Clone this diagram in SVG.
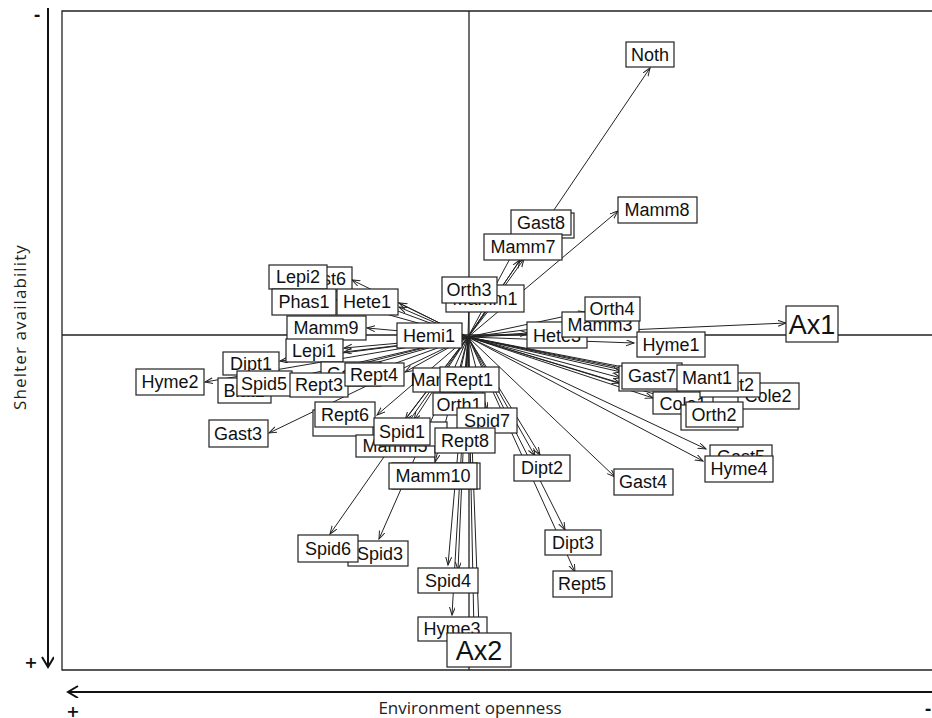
<svg xmlns="http://www.w3.org/2000/svg" width="932" height="718" viewBox="0 0 932 718">
<style>
.b{fill:#fff;stroke:#222;stroke-width:1.2}
.t{font-family:"Liberation Sans",Arial,sans-serif;font-size:18px;fill:#111;text-anchor:middle}
.T{font-family:"Liberation Sans",Arial,sans-serif;font-size:27px;fill:#111;text-anchor:middle}
.a{stroke:#222;stroke-width:1;fill:none;marker-end:url(#ah)}
.f{stroke:#222;stroke-width:1.3;fill:none}
.o{font-family:"Open Sans","DejaVu Sans",sans-serif;font-size:17px;fill:#222;text-anchor:middle}
.s{font-family:"DejaVu Sans",sans-serif;font-size:16px;fill:#111;text-anchor:middle;font-weight:bold}
</style>
<defs>
<marker id="ah" markerUnits="userSpaceOnUse" markerWidth="10" markerHeight="8" refX="8" refY="3" orient="auto"><path d="M0,0 L8,3 L0,6" fill="none" stroke="#222" stroke-width="1"/></marker>
<marker id="big" markerUnits="userSpaceOnUse" markerWidth="14" markerHeight="14" refX="11" refY="6" orient="auto"><path d="M1,0 L11,6 L1,12" fill="none" stroke="#111" stroke-width="2"/></marker>
</defs>
<rect width="932" height="718" fill="#fff"/>
<g id="frame">
<path class="f" d="M934,11 H62 V670 H934"/>
<path class="f" d="M62,335 H934 M469,11 V670"/>
</g>
<g id="outer-axes">
<line x1="48" y1="8" x2="48" y2="667" stroke="#111" stroke-width="2" marker-end="url(#big)"/>
<line x1="932" y1="692" x2="68" y2="692" stroke="#111" stroke-width="2" marker-end="url(#big)"/>
<text class="s" x="37" y="20">-</text>
<text class="s" x="31" y="668">+</text>
<text class="s" x="73" y="717">+</text>
<text class="s" x="928" y="714">-</text>
<text class="o" x="470" y="714">Environment openness</text>
<text class="o" x="26" y="327" font-size="18" letter-spacing="1.1" transform="rotate(-90 26 327)">Shelter availability</text>
</g>
<g id="connectors">
<path class="a" d="M468,337 L650,68"/>
<path class="a" d="M468,337 L618,211"/>
<path class="a" d="M468,337 L521,238"/>
<path class="a" d="M468,337 L520,260"/>
<path class="a" d="M468,337 L524,259"/>
<path class="a" d="M468,337 L500,296"/>
<path class="a" d="M468,337 L469,300"/>
<path class="a" d="M468,337 L352,280"/>
<path class="a" d="M468,337 L330,286"/>
<path class="a" d="M468,337 L336,300"/>
<path class="a" d="M468,337 L399,303"/>
<path class="a" d="M468,337 L399,307"/>
<path class="a" d="M468,337 L367,328"/>
<path class="a" d="M468,337 L344,348"/>
<path class="a" d="M468,337 L344,352"/>
<path class="a" d="M468,337 L280,361"/>
<path class="a" d="M468,337 L205,382"/>
<path class="a" d="M468,337 L272,386"/>
<path class="a" d="M468,337 L292,378"/>
<path class="a" d="M468,337 L349,380"/>
<path class="a" d="M468,337 L357,368"/>
<path class="a" d="M468,337 L405,372"/>
<path class="a" d="M468,337 L269,433"/>
<path class="a" d="M468,337 L377,415"/>
<path class="a" d="M468,337 L405,420"/>
<path class="a" d="M468,337 L414,420"/>
<path class="a" d="M468,337 L400,426"/>
<path class="a" d="M468,337 L435,462"/>
<path class="a" d="M468,337 L330,534"/>
<path class="a" d="M468,337 L379,539"/>
<path class="a" d="M468,337 L448,565"/>
<path class="a" d="M468,337 L452,615"/>
<path class="a" d="M468,337 L458,570"/>
<path class="a" d="M468,337 L479,628"/>
<path class="a" d="M468,337 L474,632"/>
<path class="a" d="M468,337 L455,395"/>
<path class="a" d="M468,337 L487,410"/>
<path class="a" d="M468,337 L465,430"/>
<path class="a" d="M468,337 L540,455"/>
<path class="a" d="M468,337 L535,456"/>
<path class="a" d="M468,337 L565,530"/>
<path class="a" d="M468,337 L575,572"/>
<path class="a" d="M468,337 L615,477"/>
<path class="a" d="M468,337 L706,449"/>
<path class="a" d="M468,337 L703,461"/>
<path class="a" d="M468,337 L653,398"/>
<path class="a" d="M468,337 L621,372"/>
<path class="a" d="M468,337 L621,378"/>
<path class="a" d="M468,337 L620,383"/>
<path class="a" d="M468,337 L690,405"/>
<path class="a" d="M468,337 L740,395"/>
<path class="a" d="M468,337 L705,385"/>
<path class="a" d="M468,337 L680,378"/>
<path class="a" d="M468,337 L634,343"/>
<path class="a" d="M468,337 L786,323"/>
<path class="a" d="M468,337 L565,325"/>
<path class="a" d="M468,337 L585,312"/>
<path class="a" d="M468,337 L528,333"/>
</g>
<g id="Gast8"><rect class="b" x="514" y="213" width="60" height="25"/><rect class="b" x="511" y="210" width="60" height="25"/><text class="t" x="541" y="229">Gast8</text></g>
<g id="Mamm7"><rect class="b" x="484" y="234" width="78" height="26"/><text class="t" x="523" y="253">Mamm7</text></g>
<g id="Noth"><rect class="b" x="626" y="42" width="48" height="25"/><text class="t" x="650" y="61">Noth</text></g>
<g id="Mamm8"><rect class="b" x="618" y="197" width="79" height="26"/><text class="t" x="657" y="216">Mamm8</text></g>
<g id="Mamm1"><rect class="b" x="446" y="285" width="78" height="27"/><text class="t" x="485" y="305">Mamm1</text></g>
<g id="Orth3"><rect class="b" x="442" y="277" width="55" height="26"/><text class="t" x="469" y="296">Orth3</text></g>
<g id="Hete3"><rect class="b" x="527" y="322" width="60" height="26"/><text class="t" x="557" y="342">Hete3</text></g>
<g id="Mamm3"><rect class="b" x="562" y="312" width="77" height="25"/><text class="t" x="600" y="331">Mamm3</text></g>
<g id="Orth4"><rect class="b" x="585" y="297" width="55" height="24"/><text class="t" x="612" y="315">Orth4</text></g>
<g id="Hyme1"><rect class="b" x="637" y="332" width="68" height="25"/><text class="t" x="671" y="351">Hyme1</text></g>
<g id="Ax1"><rect class="b" x="786" y="306" width="52" height="36"/><text class="T" x="812" y="334">Ax1</text></g>
<g id="Gast6"><rect class="b" x="292" y="267" width="60" height="24"/><text class="t" x="322" y="285">Gast6</text></g>
<g id="Lepi2"><rect class="b" x="269" y="265" width="58" height="24"/><text class="t" x="298" y="283">Lepi2</text></g>
<g id="Phas1"><rect class="b" x="272" y="289" width="64" height="26"/><text class="t" x="304" y="308">Phas1</text></g>
<g id="Hete1"><rect class="b" x="337" y="289" width="61" height="26"/><text class="t" x="367" y="308">Hete1</text></g>
<g id="Mamm9"><rect class="b" x="287" y="316" width="79" height="24"/><text class="t" x="326" y="334">Mamm9</text></g>
<g id="Hemi1"><rect class="b" x="397" y="323" width="65" height="25"/><text class="t" x="429" y="342">Hemi1</text></g>
<g id="Lepi1"><rect class="b" x="286" y="339" width="57" height="23"/><text class="t" x="314" y="357">Lepi1</text></g>
<g id="Dipt1"><rect class="b" x="223" y="352" width="56" height="23"/><text class="t" x="251" y="370">Dipt1</text></g>
<g id="Blat1"><rect class="b" x="218" y="378" width="53" height="25"/><text class="t" x="244" y="397">Blat1</text></g>
<g id="Hyme2"><rect class="b" x="136" y="369" width="68" height="26"/><text class="t" x="170" y="388">Hyme2</text></g>
<g id="Gast1"><rect class="b" x="321" y="362" width="60" height="24"/><text class="t" x="351" y="380">Gast1</text></g>
<g id="Spid5"><rect class="b" x="237" y="371" width="55" height="25"/><text class="t" x="264" y="390">Spid5</text></g>
<g id="Rept3"><rect class="b" x="290" y="373" width="58" height="24"/><text class="t" x="319" y="391">Rept3</text></g>
<g id="Rept4"><rect class="b" x="345" y="363" width="59" height="23"/><text class="t" x="374" y="381">Rept4</text></g>
<g id="Gast3"><rect class="b" x="209" y="420" width="59" height="27"/><text class="t" x="238" y="440">Gast3</text></g>
<g id="Rept6"><rect class="b" x="313" y="410" width="60" height="26"/><rect class="b" x="315" y="402" width="60" height="25"/><text class="t" x="345" y="421">Rept6</text></g>
<g id="Mamm4"><rect class="b" x="413" y="368" width="60" height="24"/><text class="t" x="443" y="386">Mamm4</text></g>
<g id="Mamm5"><rect class="b" x="356" y="435" width="79" height="22"/><text class="t" x="395" y="452">Mamm5</text></g>
<g id="Spid1"><rect class="b" x="380" y="422" width="67" height="24"/><rect class="b" x="374" y="418" width="56" height="27"/><text class="t" x="402" y="438">Spid1</text></g>
<g id="Orth1"><rect class="b" x="433" y="393" width="52" height="22"/><text class="t" x="459" y="411">Orth1</text></g>
<g id="Rept1"><rect class="b" x="440" y="367" width="59" height="25"/><text class="t" x="469" y="386">Rept1</text></g>
<g id="Spid7"><rect class="b" x="457" y="408" width="60" height="25"/><text class="t" x="487" y="427">Spid7</text></g>
<g id="Rept8"><rect class="b" x="435" y="428" width="60" height="25"/><text class="t" x="465" y="447">Rept8</text></g>
<g id="Mamm10"><rect class="b" x="392" y="463" width="88" height="26"/><rect class="b" x="389" y="463" width="88" height="26"/><text class="t" x="433" y="482">Mamm10</text></g>
<g id="Spid3"><rect class="b" x="348" y="541" width="60" height="25"/><text class="t" x="380" y="560">Spid3</text></g>
<g id="Spid6"><rect class="b" x="298" y="535" width="60" height="27"/><text class="t" x="328" y="555">Spid6</text></g>
<g id="Spid4"><rect class="b" x="418" y="568" width="60" height="25"/><text class="t" x="448" y="587">Spid4</text></g>
<g id="Hyme3"><rect class="b" x="418" y="617" width="69" height="24"/><text class="t" x="452" y="635">Hyme3</text></g>
<g id="Ax2"><rect class="b" x="447" y="633" width="64" height="34"/><text class="T" x="479" y="660">Ax2</text></g>
<g id="Dipt2"><rect class="b" x="514" y="455" width="56" height="26"/><text class="t" x="542" y="474">Dipt2</text></g>
<g id="Dipt3"><rect class="b" x="545" y="530" width="56" height="25"/><text class="t" x="573" y="549">Dipt3</text></g>
<g id="Rept5"><rect class="b" x="553" y="571" width="59" height="26"/><text class="t" x="582" y="590">Rept5</text></g>
<g id="Gast4"><rect class="b" x="614" y="469" width="59" height="26"/><text class="t" x="643" y="488">Gast4</text></g>
<g id="Gast5"><rect class="b" x="710" y="445" width="62" height="24"/><text class="t" x="741" y="463">Gast5</text></g>
<g id="Hyme4"><rect class="b" x="705" y="456" width="68" height="26"/><text class="t" x="739" y="475">Hyme4</text></g>
<g id="Cole1"><rect class="b" x="653" y="392" width="60" height="22"/><text class="t" x="683" y="410">Cole1</text></g>
<g id="Gast7"><rect class="b" x="619" y="366" width="60" height="25"/><rect class="b" x="622" y="363" width="60" height="26"/><text class="t" x="652" y="382">Gast7</text></g>
<g id="Cole2"><rect class="b" x="738" y="383" width="61" height="26"/><text class="t" x="768" y="402">Cole2</text></g>
<g id="Gast2"><rect class="b" x="700" y="373" width="60" height="24"/><text class="t" x="730" y="391">Gast2</text></g>
<g id="Mant1"><rect class="b" x="677" y="365" width="61" height="26"/><text class="t" x="707" y="384">Mant1</text></g>
<g id="Orth2"><rect class="b" x="681" y="405" width="57" height="25"/><rect class="b" x="686" y="402" width="57" height="25"/><text class="t" x="714" y="421">Orth2</text></g>
</svg>
